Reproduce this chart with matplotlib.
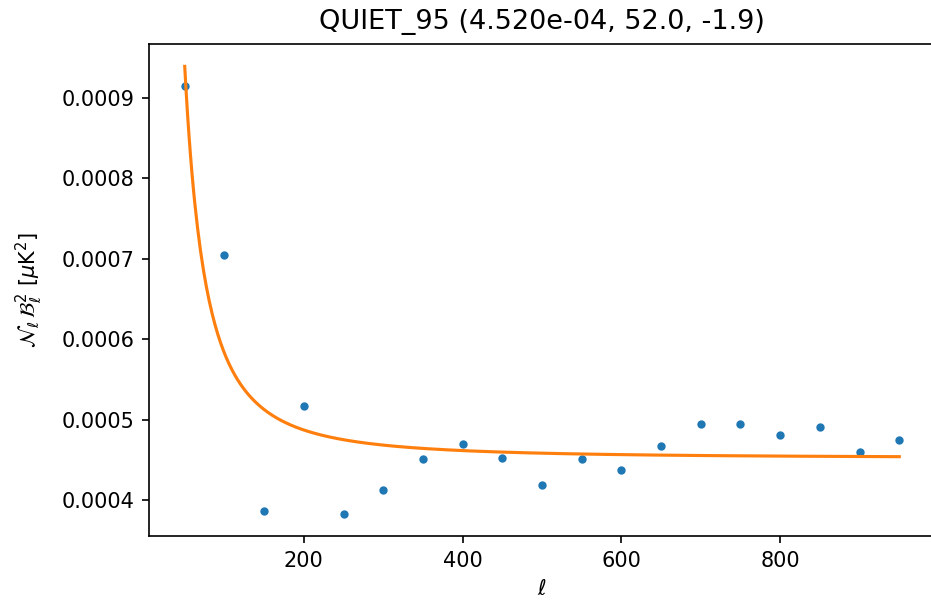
import numpy as np
import matplotlib
matplotlib.use("Agg")
import matplotlib.pyplot as plt

# data points
ell = [50, 100, 150, 200, 250, 300, 350, 400, 450, 500,
       550, 600, 650, 700, 750, 800, 850, 900, 950]
nl = [0.000914, 0.000704, 0.000386, 0.000517, 0.000383, 0.000412, 0.000451,
      0.000469, 0.000452, 0.000419, 0.000451, 0.000437, 0.000467, 0.000495,
      0.000495, 0.000481, 0.000491, 0.000459, 0.000474]

# fitted model parameters (from title)
sigma2 = 4.520e-04
lknee = 52.0
alpha = -1.9

dpi = 150
fig = plt.figure(figsize=(932 / dpi, 601 / dpi), dpi=dpi)
ax = fig.add_axes([149 / 932, (601 - 536) / 601, (935 - 149) / 932, (536 - 44) / 601])

ax.plot(ell, nl, '.')
lmod = np.linspace(ell[0], ell[-1], 500)
ax.plot(lmod, sigma2 * (1 + (lmod / lknee) ** alpha))

ax.set_title("QUIET_95 (%.3e, %.1f, %.1f)" % (sigma2, lknee, alpha), fontsize=13, pad=7)
ax.set_xlabel(r"$\ell$")
ax.set_ylabel(r"$\mathcal{N}_\ell\,\mathcal{B}^2_\ell\ [\mu{\rm K}^2]$", labelpad=8)
ax.set_xticks([200, 400, 600, 800])

fig.savefig("out.png", dpi=dpi)
